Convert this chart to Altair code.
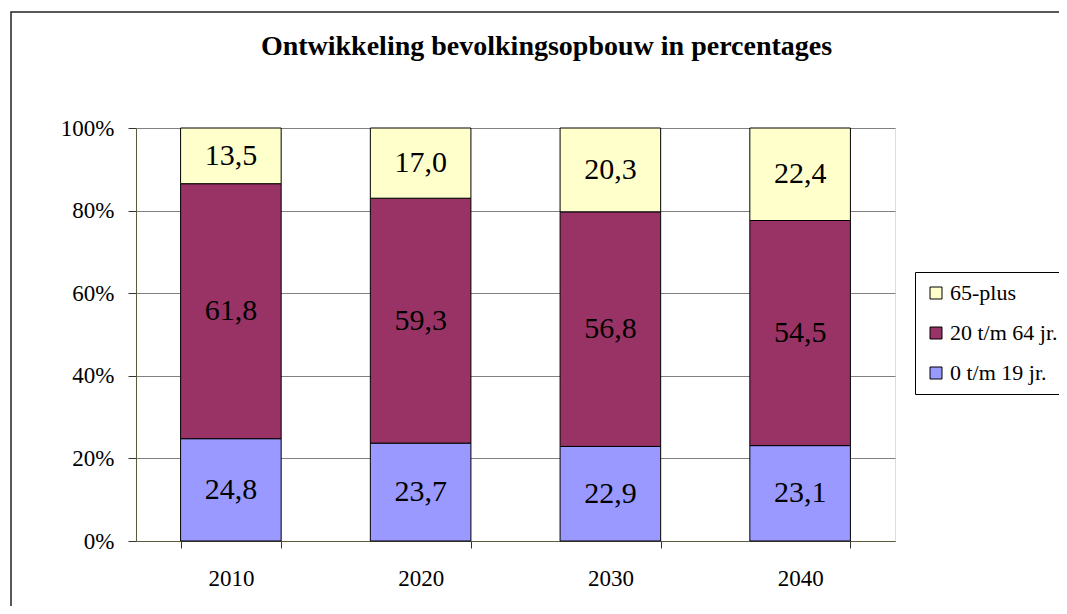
import altair as alt
import pandas as pd

years = ["2010", "2020", "2030", "2040"]
groups = ["0 t/m 19 jr.", "20 t/m 64 jr.", "65-plus"]
young = [24.8, 23.7, 22.9, 23.1]
middle = [61.8, 59.3, 56.8, 54.5]
old = [13.5, 17.0, 20.3, 22.4]

legend_order = ["65-plus", "20 t/m 64 jr.", "0 t/m 19 jr."]
colors = ["#FFFFCC", "#993366", "#9999FF"]

rows = []
for i, y in enumerate(years):
    for k, (g, vals) in enumerate(zip(groups, [young, middle, old])):
        rows.append({"year": y, "group": g, "value": vals[i], "order": k})
df = pd.DataFrame(rows)

FONT = "Liberation Serif"

xscale = alt.Scale(paddingInner=0.47, paddingOuter=0.235)
yscale = alt.Scale(domain=[0, 1])

bars = alt.Chart(df).mark_bar(stroke="black", strokeWidth=1, opacity=1).encode(
    x=alt.X("year:N", scale=xscale, sort=years,
            axis=alt.Axis(title=None, labelAngle=0, tickBand="extent", tickSize=7,
                          tickColor="#333333", domainColor="#5a5a3c", labelPadding=19,
                          labelFont=FONT, labelFontSize=23, labelColor="black", grid=False)),
    y=alt.Y("value:Q", stack="normalize", scale=yscale,
            axis=alt.Axis(title=None, format="%", values=[0, 0.2, 0.4, 0.6, 0.8, 1.0],
                          tickSize=8, tickColor="#333333", domainColor="#5a5a3c",
                          labelPadding=14, labelFont=FONT, labelFontSize=23,
                          labelColor="black", grid=True, gridColor="#808080",
                          gridWidth=1)),
    color=alt.Color("group:N", scale=alt.Scale(domain=legend_order, range=colors),
                    legend=alt.Legend(title=None, orient="none", legendX=779, legendY=144,
                                      strokeColor="black", fillColor="white", padding=10,
                                      symbolType="square", symbolSize=144,
                                      symbolStrokeColor="black", symbolStrokeWidth=1,
                                      labelFont=FONT, labelFontSize=22, labelColor="black",
                                      rowPadding=18, labelOffset=3, labelLimit=300)),
    order=alt.Order("order:Q"),
)

labels = alt.Chart(df).transform_stack(
    stack="value", groupby=["year"], sort=[alt.SortField("order")], offset="normalize",
    as_=["y0", "y1"],
).transform_calculate(
    mid="(datum.y0 + datum.y1) / 2",
    label="replace(format(datum.value, '.1f'), '.', ',')",
).mark_text(font=FONT, fontSize=30, color="black", baseline="middle").encode(
    x=alt.X("year:N", scale=xscale, sort=years),
    y=alt.Y("mid:Q", scale=yscale),
    text="label:N",
)

frame = alt.Chart(pd.DataFrame({"a": [0]})).mark_rect(
    fillOpacity=0, stroke="#222222", strokeWidth=1.5
).encode(x=alt.value(-125), x2=alt.value(1400), y=alt.value(-116), y2=alt.value(800))

chart = alt.layer(frame, bars, labels).properties(
    width=759, height=413,
    autosize=alt.AutoSizeParams(type="none"),
    padding={"left": 128, "top": 120, "right": 164, "bottom": 65},
    title=alt.Title("Ontwikkeling bevolkingsopbouw in percentages", font=FONT,
                    fontSize=28, fontWeight="bold", color="black", anchor="middle",
                    dx=31, offset=-72, baseline="alphabetic"),
).configure_view(stroke="#FFFFC0", strokeWidth=2).configure(background="white")

chart.save("out.html", embed_options={"renderer": "svg", "actions": False})
